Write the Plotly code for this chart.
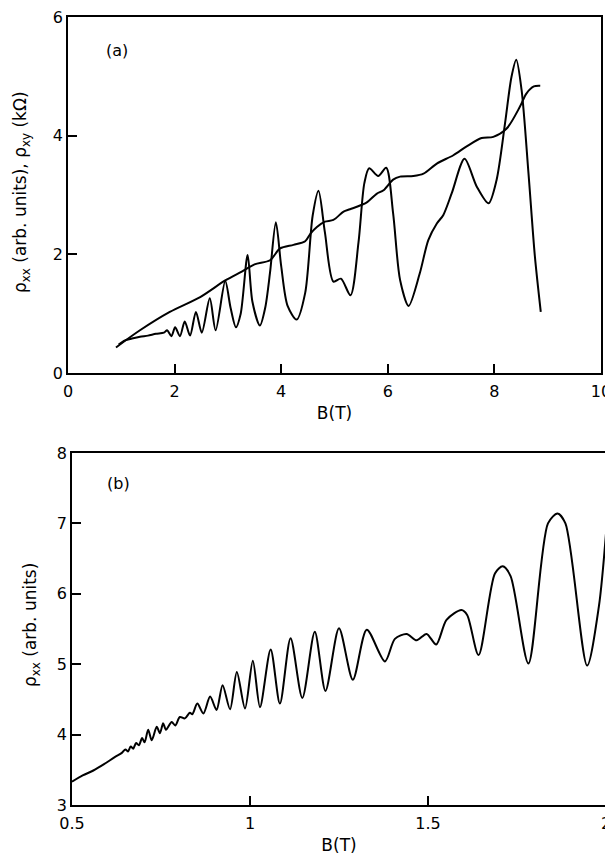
import plotly.graph_objects as go

# ---- Panel (a): rho_xy (kOhm) ----
b_xy = [0.90, 1.35, 1.91, 2.48, 2.95, 3.26, 3.50, 3.79, 3.98, 4.23, 4.45, 4.55, 4.67, 4.82,
        4.98, 5.17, 5.29, 5.60, 5.79, 5.92, 6.10, 6.23, 6.48, 6.67, 6.92, 7.23, 7.48, 7.76,
        7.98, 8.23, 8.48, 8.60, 8.74, 8.86]
rho_xy = [0.43, 0.72, 1.03, 1.28, 1.56, 1.71, 1.83, 1.90, 2.10, 2.16, 2.22, 2.35, 2.46, 2.55,
          2.58, 2.72, 2.76, 2.87, 3.02, 3.08, 3.26, 3.31, 3.32, 3.36, 3.53, 3.67, 3.82, 3.96,
          3.98, 4.12, 4.49, 4.71, 4.83, 4.84]

# ---- Panel (a): rho_xx (arb. units) ----
b_xx_a = [0.95, 1.07, 1.20, 1.35, 1.50, 1.65, 1.80, 1.86, 1.94, 2.01, 2.10, 2.19, 2.29, 2.40,
          2.51, 2.66, 2.77, 2.95, 3.05, 3.15, 3.24, 3.37, 3.46, 3.60, 3.70, 3.79, 3.90, 4.00,
          4.12, 4.29, 4.45, 4.59, 4.70, 4.82, 4.98, 5.12, 5.30, 5.45, 5.56, 5.65, 5.82, 5.97,
          6.10, 6.23, 6.39, 6.60, 6.76, 6.92, 7.04, 7.20, 7.44, 7.67, 7.89, 8.04, 8.20, 8.32,
          8.41, 8.51, 8.64, 8.76, 8.87]
rho_xx_a = [0.48, 0.55, 0.58, 0.61, 0.63, 0.66, 0.68, 0.72, 0.62, 0.77, 0.62, 0.87, 0.63, 1.03,
            0.68, 1.26, 0.72, 1.55, 1.10, 0.77, 1.00, 1.99, 1.20, 0.80, 1.10, 1.69, 2.54, 1.80,
            1.13, 0.90, 1.35, 2.65, 3.07, 2.37, 1.54, 1.59, 1.31, 2.20, 3.20, 3.45, 3.32, 3.46,
            2.69, 1.57, 1.13, 1.68, 2.24, 2.52, 2.66, 3.03, 3.61, 3.14, 2.86, 3.25, 4.21, 4.99,
            5.28, 4.77, 3.36, 1.96, 1.03]

# ---- Panel (b): rho_xx (arb. units) ----
b_xx_b = [0.500, 0.530, 0.560, 0.590, 0.620, 0.640, 0.650, 0.657, 0.665, 0.672, 0.680, 0.688,
          0.697, 0.704, 0.714, 0.724, 0.738, 0.747, 0.756, 0.764, 0.780, 0.790, 0.803, 0.817,
          0.831, 0.838, 0.852, 0.869, 0.888, 0.906, 0.923, 0.944, 0.963, 0.986, 1.008, 1.028,
          1.058, 1.084, 1.114, 1.147, 1.182, 1.212, 1.250, 1.289, 1.328, 1.379, 1.407, 1.440,
          1.468, 1.496, 1.523, 1.552, 1.594, 1.610, 1.642, 1.688, 1.710, 1.732, 1.782, 1.837,
          1.864, 1.886, 1.947, 1.980, 2.000]
rho_xx_b = [3.33, 3.42, 3.49, 3.58, 3.68, 3.74, 3.79, 3.76, 3.83, 3.80, 3.88, 3.85,
            3.95, 3.89, 4.07, 3.92, 4.11, 4.02, 4.16, 4.07, 4.18, 4.13, 4.25, 4.23,
            4.31, 4.29, 4.44, 4.30, 4.54, 4.35, 4.70, 4.36, 4.89, 4.37, 5.05, 4.39,
            5.21, 4.44, 5.37, 4.52, 5.46, 4.62, 5.51, 4.78, 5.49, 5.04, 5.36, 5.43,
            5.34, 5.43, 5.28, 5.63, 5.77, 5.70, 5.13, 6.29, 6.39, 6.25, 5.01, 7.00,
            7.14, 7.00, 4.98, 5.82, 6.86]

ticks_a_x = [0, 2, 4, 6, 8, 10]
ticks_a_y = [0, 2, 4, 6]
ticks_b_x = [0.5, 1, 1.5, 2]
ticks_b_x_text = ["0.5", "1", "1.5", "2"]
ticks_b_y = [3, 4, 5, 6, 7, 8]

FONT = "DejaVu Sans, Liberation Sans, sans-serif"
line = dict(color="black", width=2, shape="spline", smoothing=0.8)

fig = go.Figure()
fig.add_trace(go.Scatter(x=b_xy, y=rho_xy, mode="lines", line=line, xaxis="x", yaxis="y",
                         name="ρxy"))
fig.add_trace(go.Scatter(x=b_xx_a, y=rho_xx_a, mode="lines", line=line, xaxis="x", yaxis="y",
                         name="ρxx"))
fig.add_trace(go.Scatter(x=b_xx_b, y=rho_xx_b, mode="lines", line=line, xaxis="x2", yaxis="y2",
                         name="ρxx"))

axis_common = dict(showgrid=False, zeroline=False, showline=True, linecolor="black",
                   linewidth=1.6, mirror=True, ticks="inside", ticklen=9, tickwidth=1.5,
                   tickcolor="black", automargin=False, ticklabeloverflow="allow")
YTICK = dict(family=FONT, size=16, color="black")
XTICK = dict(family=FONT, size=16, color="black")

# the page body adds an 8 px offset, so the figure is 8 px smaller and
# every page position below is shifted by OFF
OFF = 8
W = 613.0 - OFF
H = 855.0 - OFF


def px(x):
    return (x - OFF) / W


def py(y):
    return (H - (y - OFF)) / H


TFONT = dict(family=FONT, size=17, color="black")
fig.update_layout(
    width=int(W), height=int(H),
    margin=dict(l=0, r=0, t=0, b=0, autoexpand=False),
    paper_bgcolor="white", plot_bgcolor="white",
    showlegend=False,
    font=dict(family=FONT, color="black", size=16),
    xaxis=dict(axis_common, domain=[px(68), px(601)], range=[0, 10], tickvals=ticks_a_x,
               anchor="y", tickfont=XTICK, ticklabelstandoff=3,
               title=dict(text="B(T)", standoff=7, font=TFONT)),
    yaxis=dict(axis_common, domain=[py(373), py(17)], range=[0, 6],
               tickvals=ticks_a_y, anchor="x", tickfont=YTICK),
    xaxis2=dict(axis_common, domain=[px(72), px(606)], range=[0.5, 2.0], tickvals=ticks_b_x,
                ticktext=ticks_b_x_text, anchor="y2", tickfont=XTICK, ticklabelstandoff=3,
                title=dict(text="B(T)", standoff=7, font=TFONT)),
    yaxis2=dict(axis_common, domain=[py(805), py(453)], range=[3, 8],
                tickvals=ticks_b_y, anchor="x2", tickfont=YTICK),
    annotations=[
        dict(text="ρ<sub>xx</sub> (arb. units), ρ<sub>xy</sub> (kΩ)", xref="paper",
             yref="paper", x=px(21), y=py(192), textangle=-90, showarrow=False,
             font=TFONT, xanchor="center", yanchor="middle"),
        dict(text="ρ<sub>xx</sub> (arb. units)", xref="paper", yref="paper",
             x=px(31), y=py(625), textangle=-90, showarrow=False,
             font=TFONT, xanchor="center", yanchor="middle"),
        dict(text="(a)", xref="x", yref="y", x=0.92, y=5.44, showarrow=False,
             font=dict(family=FONT, size=16), xanchor="center", yanchor="middle"),
        dict(text="(b)", xref="x2", yref="y2", x=0.632, y=7.57, showarrow=False,
             font=dict(family=FONT, size=16), xanchor="center", yanchor="middle"),
    ],
)

fig.write_html("out.html")
